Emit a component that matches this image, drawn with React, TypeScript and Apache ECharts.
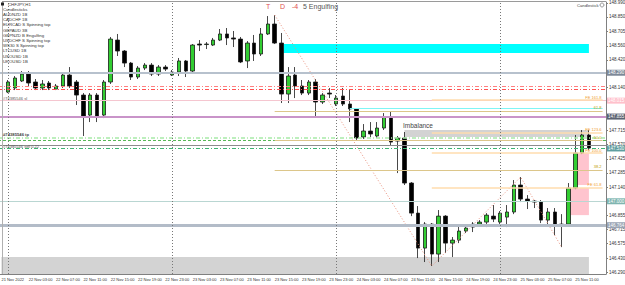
import { useEffect, useRef } from "react";
import * as echarts from "echarts";

const timeLabels = [
  "21 Nov 2022", "22 Nov 03:00", "22 Nov 07:00", "22 Nov 11:00", "22 Nov 15:00", "22 Nov 19:00",
  "22 Nov 23:00", "23 Nov 03:00", "23 Nov 07:00", "23 Nov 11:00", "23 Nov 15:00", "23 Nov 19:00",
  "23 Nov 23:00", "24 Nov 03:00", "24 Nov 07:00", "24 Nov 11:00", "24 Nov 15:00", "24 Nov 19:00",
  "24 Nov 23:00", "25 Nov 03:00", "25 Nov 07:00", "25 Nov 11:00",
];

const priceTicks = [
  146.290, 146.430, 146.575, 146.715, 146.855, 147.000, 147.140, 147.285, 147.425, 147.570,
  147.715, 147.855, 148.000, 148.140, 148.280, 148.420, 148.560, 148.705, 148.850, 148.990,
];

// [open, close, low, high], one per H1 bar starting 21 Nov 23:00
const candles: (number[] | string)[] = [
  "-",
  [148.096, 148.197, 148.086, 148.217],
  [148.137, 148.237, 148.116, 148.257],
  [148.207, 148.277, 148.197, 148.307],
  [148.277, 148.187, 148.157, 148.307],
  [148.197, 148.137, 148.116, 148.227],
  [148.137, 148.177, 148.116, 148.217],
  [148.187, 148.137, 148.116, 148.207],
  [148.126, 148.157, 148.116, 148.177],
  [148.157, 148.267, 148.137, 148.287],
  [148.267, 148.157, 148.137, 148.347],
  [148.197, 148.066, 147.966, 148.217],
  [148.066, 147.855, 147.655, 148.086],
  [147.865, 148.066, 147.795, 148.086],
  [148.066, 147.855, 147.795, 148.086],
  [147.865, 148.197, 147.835, 148.217],
  [148.197, 148.628, 148.177, 148.649],
  [148.618, 148.508, 148.458, 148.679],
  [148.508, 148.387, 148.347, 148.518],
  [148.387, 148.247, 148.217, 148.398],
  [148.247, 148.337, 148.227, 148.357],
  [148.337, 148.367, 148.317, 148.387],
  [148.367, 148.277, 148.257, 148.387],
  [148.277, 148.347, 148.257, 148.367],
  [148.347, 148.327, 148.307, 148.367],
  [148.267, 148.297, 148.257, 148.317],
  [148.297, 148.408, 148.257, 148.438],
  [148.408, 148.307, 148.247, 148.418],
  [148.307, 148.568, 148.297, 148.578],
  [148.578, 148.568, 148.508, 148.618],
  [148.573, 148.578, 148.528, 148.598],
  [148.568, 148.618, 148.558, 148.639],
  [148.618, 148.679, 148.608, 148.729],
  [148.679, 148.639, 148.568, 148.739],
  [148.639, 148.628, 148.548, 148.709],
  [148.628, 148.398, 148.387, 148.649],
  [148.408, 148.588, 148.337, 148.608],
  [148.588, 148.478, 148.408, 148.669],
  [148.478, 148.679, 148.458, 148.739],
  [148.679, 148.779, 148.669, 148.859],
  [148.779, 148.588, 148.578, 148.869],
  [148.588, 148.076, 147.986, 148.689],
  [148.076, 148.257, 147.986, 148.347],
  [148.267, 148.157, 148.036, 148.347],
  [148.157, 148.086, 148.066, 148.217],
  [148.086, 148.197, 148.066, 148.217],
  [148.197, 147.996, 147.845, 148.227],
  [147.996, 148.066, 147.976, 148.086],
  [148.086, 148.076, 148.036, 148.137],
  [147.976, 148.036, 147.956, 148.066],
  [148.056, 147.976, 147.956, 148.137],
  [147.976, 147.926, 147.795, 148.126],
  [147.926, 147.635, 147.614, 147.936],
  [147.645, 147.705, 147.625, 147.775],
  [147.705, 147.675, 147.645, 147.795],
  [147.655, 147.735, 147.635, 147.795],
  [147.735, 147.845, 147.715, 147.885],
  [147.845, 147.594, 147.564, 147.896],
  [147.604, 147.635, 147.283, 147.655],
  [147.635, 147.183, 147.163, 147.695],
  [147.183, 146.881, 146.851, 147.193],
  [146.881, 146.530, 146.430, 146.952],
  [146.530, 146.771, 146.390, 146.791],
  [146.771, 146.470, 146.350, 146.781],
  [146.470, 146.851, 146.390, 146.912],
  [146.851, 146.580, 146.480, 146.861],
  [146.580, 146.610, 146.440, 146.641],
  [146.610, 146.701, 146.580, 146.761],
  [146.701, 146.731, 146.681, 146.771],
  [146.741, 146.771, 146.691, 146.791],
  [146.771, 146.791, 146.751, 146.811],
  [146.791, 146.861, 146.741, 146.881],
  [146.851, 146.821, 146.791, 146.962],
  [146.791, 146.881, 146.761, 146.902],
  [146.841, 146.892, 146.741, 146.962],
  [146.892, 147.163, 146.871, 147.213],
  [147.163, 147.022, 146.992, 147.243],
  [147.022, 147.002, 146.922, 147.062],
  [147.002, 146.992, 146.932, 147.012],
  [146.992, 146.811, 146.781, 147.012],
  [146.811, 146.892, 146.761, 146.932],
  [146.892, 146.761, 146.661, 146.932],
  [146.771, 146.761, 146.540, 146.871],
  [146.771, 147.133, 146.761, 147.183],
  [147.133, 147.484, 147.122, 147.665],
  [147.484, 147.665, 147.474, 147.715],
  [147.665, 147.534, 147.514, 147.715],
];

const zigzagPoints = [
  [40, 148.869],
  [63, 146.350],
  [76, 147.243],
  [82, 146.540],
];

const daySeparators = [1, 25, 49, 73];

const watchList = [
  "CHFJPY,H1",
  "Candlesticks",
  "AUDNZD 1B",
  "CADCHF 1B",
  "EURCAD S Spinning top",
  "GBPAUD 3B",
  "GBPNZD B Engulfing",
  "USDCHF S Spinning top",
  "WS30 S Spinning top",
  "LTCUSD 1B",
  "USOUSD 1B",
  "UKOUSD 1B",
];

const resistanceLevel = 148.29;
const stopLevels = [148.15, 148.12];
const slLevel = 148.015;
const purpleLevel = 147.855;
const tpLevels = [147.64, 147.61];
const openLevel = 147.565;
const bidLevel = 147.53;
const tealLevel = 147.0;
const supportLevel = 146.764;
const cyanLevel = 147.936;
const fibNames = ["61.8", "50.0", "38.2"];
const fibValues = [147.906, 147.614, 147.314];
const feNames = ["FE 161.8", "FE 123.6", "FE 100.0", "FE 61.8"];
const feValues = [148.016, 147.69, 147.484, 147.138];

const supplyZone = [148.578, 148.488];
const imbalanceZone = [147.715, 147.645];
const pinkZoneUpper = [147.484, 147.163];
const pinkZoneLower = [147.133, 146.861];
const bottomZone = [146.44, 146.27];

const FONT = "Liberation Sans";

export default function App() {
  const ref = useRef<HTMLDivElement>(null);

  useEffect(() => {
    if (!ref.current) return;
    const chart = echarts.init(ref.current, undefined, { renderer: "svg" });
    const categories = candles.map((_, i) => String(i)).concat(["87", "88"]);
    const lastIdx = categories.length - 1;

    const boxLabel = (v: number, bg: string) => ({
      show: true,
      position: "end",
      distance: 1,
      formatter: v.toFixed(3),
      backgroundColor: bg,
      color: "#ffffff",
      fontSize: 4.5,
      fontFamily: FONT,
      padding: [1, 1, 0, 1],
    });

    const full = (v: number, color: string, width: number, type: any, label?: any) => ({
      yAxis: v,
      lineStyle: { color, width, type },
      label: label || { show: false },
    });

    const partial = (from: number, v: number, color: string, width: number, label?: any) => [
      {
        coord: [from, v],
        lineStyle: { color, width, type: "solid" },
        label: label || { show: false },
      },
      { coord: [lastIdx, v] },
    ];

    const dashDot = [4, 2, 1, 2];

    const markLines: any[] = [
      full(resistanceLevel, "#b7c1cd", 2, "solid", boxLabel(resistanceLevel, "#7d8898")),
      full(stopLevels[0], "#ff8080", 1, dashDot),
      full(stopLevels[1], "#ff5050", 1, dashDot),
      full(slLevel, "#f5c6d0", 1, "solid", boxLabel(slLevel, "#ffc0cb")),
      full(purpleLevel, "#c994c9", 2, "solid", boxLabel(purpleLevel, "#5b6372")),
      full(tpLevels[0], "#a8eaa8", 1.5, dashDot),
      full(tpLevels[1], "#56b856", 1, [3, 2]),
      full(openLevel, "#8c8c8c", 1, "solid"),
      full(bidLevel, "#3cb371", 1, dashDot, boxLabel(bidLevel, "#5f9ea0")),
      full(tealLevel, "#b9d6d2", 1, "solid", boxLabel(tealLevel, "#7fb5b0")),
      full(supportLevel, "#b3bcc8", 3, "solid", boxLabel(supportLevel, "#9aa4b4")),
      partial(51, cyanLevel, "#7ff5f5", 1),
    ];
    fibValues.forEach((v, i) => {
      markLines.push(
        partial(40, v, "#dcc68a", 1, {
          show: true,
          position: "insideEndTop",
          distance: 1,
          formatter: fibNames[i],
          color: "#c0a000",
          fontSize: 4,
          fontFamily: FONT,
        })
      );
    });
    feValues.forEach((v, i) => {
      markLines.push(
        partial(63, v, "#ffdcae", 1.5, {
          show: true,
          position: "insideEndTop",
          distance: 1,
          formatter: feNames[i],
          color: "#f0a030",
          fontSize: 4,
          fontFamily: FONT,
        })
      );
    });
    daySeparators.forEach((x) => {
      markLines.push({
        xAxis: x,
        lineStyle: { color: "#777777", width: 1, type: [1, 2] },
        label: { show: false },
      });
    });

    const area = (x0: number, x1: number, ys: number[], color: string) => [
      { coord: [x0, ys[0]], itemStyle: { color, opacity: 1 } },
      { coord: [x1, ys[1]] },
    ];

    const listTexts = watchList.map((t, i) => ({
      type: "text",
      x: i === 0 ? 8 : 3,
      y: 4 + i * 5.2,
      z: 20,
      style: {
        text: t,
        fill: "#333333",
        fontSize: 4.3,
        fontFamily: FONT,
        verticalAlign: "middle",
        align: "left",
      },
    }));

    const txt = (text: string, x: number, y: number, fill: string, size: number, extra: any = {}) => ({
      type: "text",
      x,
      y,
      z: 20,
      style: { text, fill, fontSize: size, fontFamily: FONT, verticalAlign: "middle", align: "left", ...extra },
    });

    const option: any = {
      animation: false,
      backgroundColor: "#ffffff",
      textStyle: { fontFamily: FONT },
      grid: { left: -2, right: 19, top: 2, bottom: 11, containLabel: false, outerBoundsMode: "none" },
      xAxis: {
        type: "category",
        data: categories,
        boundaryGap: true,
        axisLine: { lineStyle: { color: "#808080", width: 1 } },
        axisTick: { interval: 3, alignWithLabel: true, length: 2, lineStyle: { color: "#808080" } },
        axisLabel: {
          interval: 3,
          align: "left",
          fontSize: 4,
          color: "#333333",
          margin: 3,
          formatter: (_v: string, i: number) => (i % 4 === 0 ? timeLabels[i / 4] || "" : ""),
        },
        splitLine: { show: false },
      },
      yAxis: {
        type: "value",
        position: "right",
        min: 146.27,
        max: 149.0,
        scale: true,
        splitLine: { show: false },
        axisLine: { show: true, lineStyle: { color: "#808080", width: 1 } },
        axisTick: { show: true, length: 2, customValues: priceTicks, lineStyle: { color: "#808080" } },
        axisLabel: {
          customValues: priceTicks,
          fontSize: 4.5,
          color: "#333333",
          margin: 3,
          formatter: (v: number) => v.toFixed(3),
        },
      },
      series: [
        {
          type: "line",
          data: [],
          z: 1,
          silent: true,
          markArea: {
            silent: true,
            label: { show: false },
            data: [
              area(41, 86, supplyZone, "#00ffff"),
              area(59, 86, imbalanceZone, "#d3d3d3"),
              area(84, 86, pinkZoneUpper, "#ffc4ce"),
              area(83, 86, pinkZoneLower, "#ffc4ce"),
              area(0, 86, bottomZone, "#d3d3d3"),
            ],
          },
        },
        {
          type: "line",
          data: [],
          z: 2,
          silent: true,
          markLine: {
            silent: true,
            symbol: ["none", "none"],
            label: { show: false },
            data: markLines,
          },
        },
        {
          type: "candlestick",
          data: candles,
          z: 3,
          barWidth: 4,
          silent: true,
          itemStyle: {
            color: "#32cd32",
            color0: "#000000",
            borderColor: "#1a1a1a",
            borderColor0: "#1a1a1a",
            borderWidth: 0.8,
          },
        },
        {
          type: "line",
          data: zigzagPoints,
          z: 4,
          silent: true,
          symbol: "none",
          lineStyle: { color: "#e8907c", width: 1, type: [1, 2] },
        },
      ],
      graphic: [
        { type: "line", z: 20, shape: { x1: 2, y1: 1.5, x2: 606, y2: 1.5 }, style: { stroke: "#9a9a9a", lineWidth: 1 } },
        { type: "line", z: 20, shape: { x1: 2.5, y1: 2, x2: 2.5, y2: 274 }, style: { stroke: "#b0b0b0", lineWidth: 1 } },
        { type: "rect", z: 20, shape: { x: 1, y: 2.5, width: 3, height: 3 }, style: { fill: "#222222" } },
        ...listTexts,
        txt("T", 266, 6, "#e05050", 7),
        txt("D", 280, 6, "#e05050", 7),
        txt("-4", 292, 6, "#e05050", 7),
        txt("5 Engulfing", 303, 6, "#555555", 7),
        txt("Imbalance", 403, 125, "#444444", 6.5),
        txt("Candlestick", 577, 5, "#444444", 4.2),
        { type: "circle", z: 20, shape: { cx: 602, cy: 5, r: 2 }, style: { fill: "none", stroke: "#555555", lineWidth: 0.6 } },
        txt("#74385546 sl", 3, 98, "#555555", 4),
        txt("#74385546 tp", 3, 134.5, "#444444", 4.2, { fontWeight: "bold" }),
        txt("#74385546 sell 0.22", 3, 146, "#555555", 4),
      ],
    };

    chart.setOption(option);
    return () => chart.dispose();
  }, []);

  return (
    <div
      ref={ref}
      style={{ position: "fixed", left: 0, top: 0, width: 625, height: 285, background: "#fff" }}
    />
  );
}
